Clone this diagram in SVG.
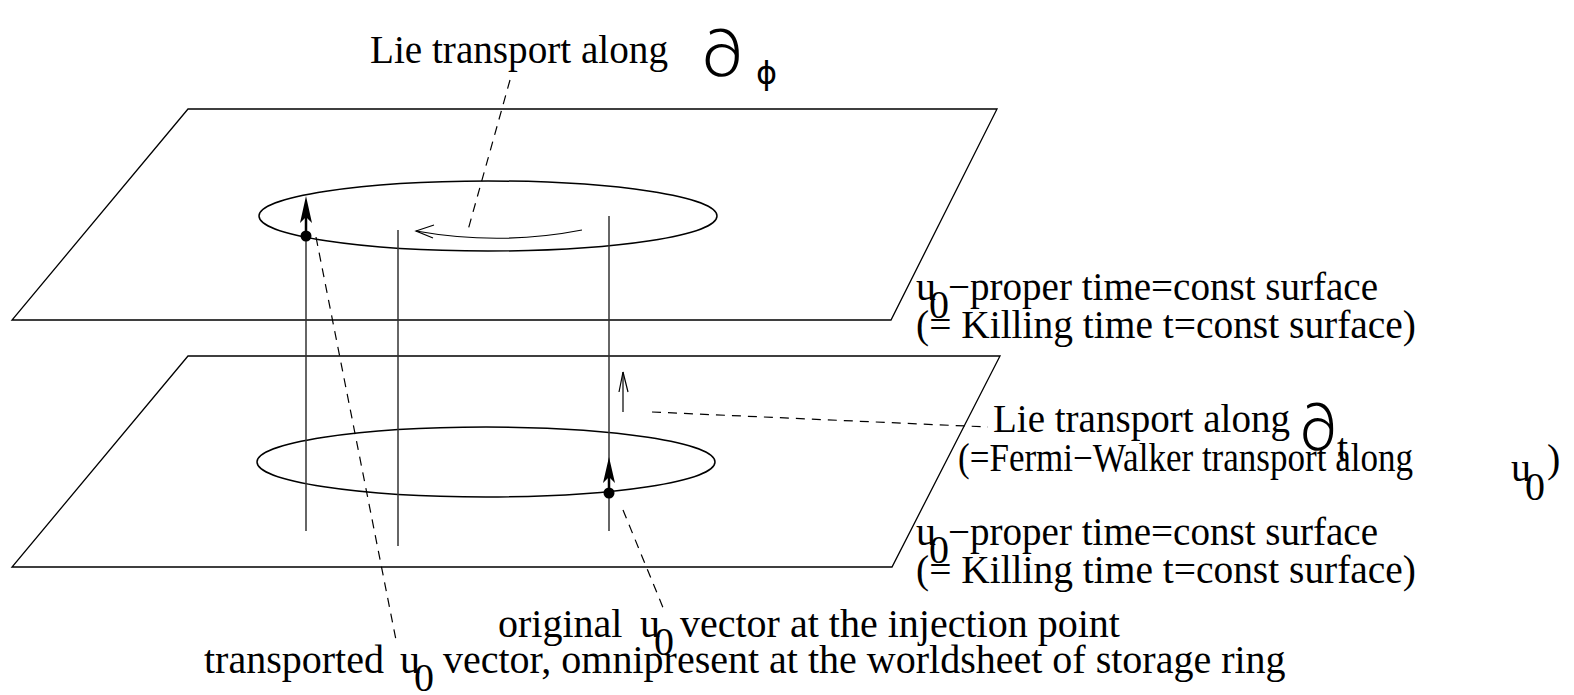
<svg xmlns="http://www.w3.org/2000/svg" width="1574" height="695" viewBox="0 0 1574 695">
<style>
.t{font-family:"Liberation Serif","Times New Roman",serif;font-size:40px;fill:#000}
.d{font-family:Roboto,"Liberation Sans",sans-serif;font-weight:300;font-size:64px;fill:#000}
.sym{font-family:"DejaVu Sans",sans-serif;fill:#000}
.plane{fill:none;stroke:#000;stroke-width:1.3}
.ring{fill:none;stroke:#000;stroke-width:1.5}
.wl{fill:none;stroke:#333;stroke-width:1.5}
.vec{fill:none;stroke:#000;stroke-width:2.5}
.dash{fill:none;stroke:#000;stroke-width:1.2;stroke-dasharray:9,7}
.thin{fill:none;stroke:#000;stroke-width:1.2}
</style>
<g id="upper-plane">
<polygon class="plane" points="188,109 997,109 891,320 12,320"/>
<ellipse class="ring" cx="488" cy="216" rx="229" ry="35"/>
</g>
<g id="lower-plane">
<polygon class="plane" points="188,356 1000,356 892,567 12,567"/>
<ellipse class="ring" cx="486" cy="462" rx="229" ry="35"/>
</g>
<g id="worldlines">
<line class="wl" x1="306" y1="237" x2="306" y2="531"/>
<line class="wl" x1="398" y1="230" x2="398" y2="546"/>
<line class="wl" x1="609" y1="216" x2="609" y2="531"/>
</g>
<g id="transported-vector">
<line class="vec" x1="306" y1="237" x2="306" y2="212"/>
<polygon points="306,196 312,223 306,217 300,223" fill="#000"/>
<circle cx="306" cy="236" r="5.5" fill="#000"/>
</g>
<g id="original-vector">
<line class="vec" x1="609" y1="493" x2="609" y2="472"/>
<polygon points="609,457 615,483 609,477 603,483" fill="#000"/>
<circle cx="609" cy="493" r="5.5" fill="#000"/>
</g>
<g id="lie-phi-arrow">
<path class="thin" d="M582,230 Q500,246 416,231"/>
<polyline class="thin" points="434,225 416,231 433,238"/>
</g>
<g id="lie-t-arrow">
<line class="thin" x1="623" y1="412" x2="623" y2="372"/>
<polyline class="thin" points="619,392 623,372 628,392"/>
</g>
<g id="connectors">
<line class="dash" x1="510" y1="80" x2="468" y2="230"/>
<line class="dash" x1="652" y1="412" x2="988" y2="427"/>
<line class="dash" x1="316" y1="237" x2="397" y2="645"/>
<line class="dash" x1="623" y1="510" x2="664" y2="610"/>
</g>
<g id="label-lie-phi">
<text class="t" x="370" y="63" textLength="298" lengthAdjust="spacingAndGlyphs">Lie transport along</text>
<text class="d" x="702" y="76" textLength="40" lengthAdjust="spacingAndGlyphs">∂</text>
<text class="sym" x="756" y="84" font-size="32">ϕ</text>
</g>
<g id="label-upper-surface">
<text class="t" x="916" y="300">u</text>
<text class="t" x="929" y="318">0</text>
<text class="t" x="948" y="300" textLength="430" lengthAdjust="spacingAndGlyphs">−proper time=const surface</text>
<text class="t" x="916" y="338" textLength="500" lengthAdjust="spacingAndGlyphs">(= Killing time t=const surface)</text>
</g>
<g id="label-lie-t">
<text class="t" x="993" y="432" textLength="297" lengthAdjust="spacingAndGlyphs">Lie transport along</text>
<text class="d" x="1300" y="450" textLength="36" lengthAdjust="spacingAndGlyphs">∂</text>
<text class="t" x="1337" y="461">t</text>
<text class="t" x="958" y="471" font-size="38" textLength="455" lengthAdjust="spacingAndGlyphs">(=Fermi−Walker transport along</text>
<text class="t" x="1511" y="481">u</text>
<text class="t" x="1525" y="500">0</text>
<text class="t" x="1547" y="472">)</text>
</g>
<g id="label-lower-surface">
<text class="t" x="916" y="545">u</text>
<text class="t" x="929" y="563">0</text>
<text class="t" x="948" y="545" textLength="430" lengthAdjust="spacingAndGlyphs">−proper time=const surface</text>
<text class="t" x="916" y="583" textLength="500" lengthAdjust="spacingAndGlyphs">(= Killing time t=const surface)</text>
</g>
<g id="label-original">
<text class="t" x="498" y="637">original</text>
<text class="t" x="640" y="637">u</text>
<text class="t" x="654" y="655">0</text>
<text class="t" x="680" y="637">vector at the injection point</text>
</g>
<g id="label-transported">
<text class="t" x="204" y="673">transported</text>
<text class="t" x="400" y="673">u</text>
<text class="t" x="414" y="691">0</text>
<text class="t" x="443" y="673">vector, omnipresent at the worldsheet of storage ring</text>
</g>
</svg>
